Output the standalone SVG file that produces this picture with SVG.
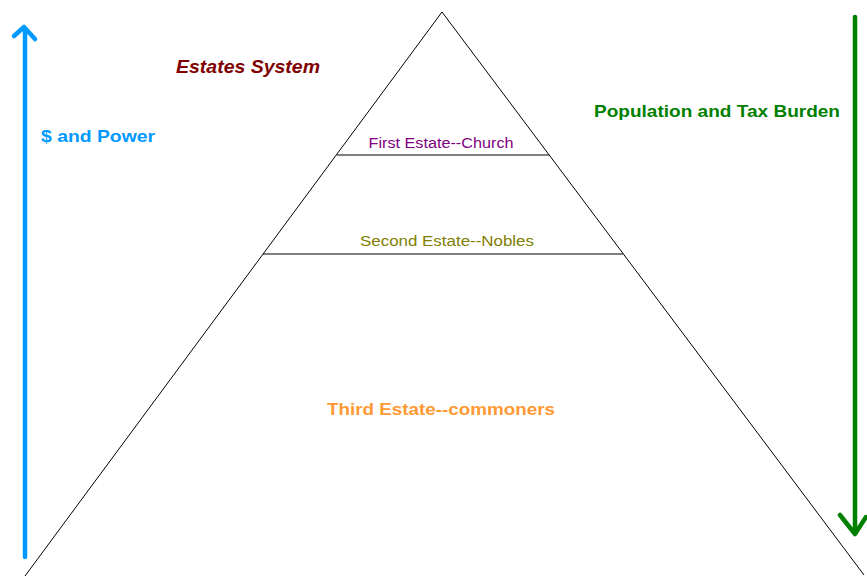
<svg xmlns="http://www.w3.org/2000/svg" width="867" height="577" viewBox="0 0 867 577">
<style>
text{font-family:"Liberation Sans","DejaVu Sans",sans-serif;}
.edge{stroke:#000;stroke-width:1;fill:none;}
.arr{fill:none;stroke-width:4.5;stroke-linecap:round;stroke-linejoin:round;}
</style>
<rect width="867" height="577" fill="#fff"/>
<g id="connectors">
<polyline class="edge" points="25,576 442,12 864,575"/>
<line class="edge" x1="337" y1="155" x2="549" y2="155"/>
<line class="edge" x1="263" y1="254" x2="623" y2="254"/>
<g id="power-arrow">
<line class="arr" stroke="#0099ff" x1="25" y1="29" x2="25" y2="557"/>
<polyline class="arr" stroke="#0099ff" points="14,36 24,27 35,39"/>
</g>
<g id="population-arrow">
<line class="arr" stroke="#008000" x1="855" y1="17" x2="855" y2="533"/>
<polyline class="arr" stroke="#008000" points="840,515 855,534 866,517"/>
</g>
</g>
<g id="title"><text x="248" y="73" text-anchor="middle" font-size="19" font-weight="bold" font-style="italic" fill="#800000" textLength="144" lengthAdjust="spacingAndGlyphs">Estates System</text></g>
<g id="power-label"><text x="98" y="142" text-anchor="middle" font-size="17" font-weight="bold" fill="#0099ff" textLength="114" lengthAdjust="spacingAndGlyphs">$ and Power</text></g>
<g id="population-label"><text x="717" y="117" text-anchor="middle" font-size="17" font-weight="bold" fill="#008000" textLength="246" lengthAdjust="spacingAndGlyphs">Population and Tax Burden</text></g>
<g id="first-estate"><text x="441" y="148" text-anchor="middle" font-size="14" fill="#800080" textLength="145" lengthAdjust="spacingAndGlyphs">First Estate--Church</text></g>
<g id="second-estate"><text x="447" y="246" text-anchor="middle" font-size="14" fill="#808000" textLength="174" lengthAdjust="spacingAndGlyphs">Second Estate--Nobles</text></g>
<g id="third-estate"><text x="441" y="415" text-anchor="middle" font-size="17" font-weight="bold" fill="#ff9933" textLength="228" lengthAdjust="spacingAndGlyphs">Third Estate--commoners</text></g>
</svg>
